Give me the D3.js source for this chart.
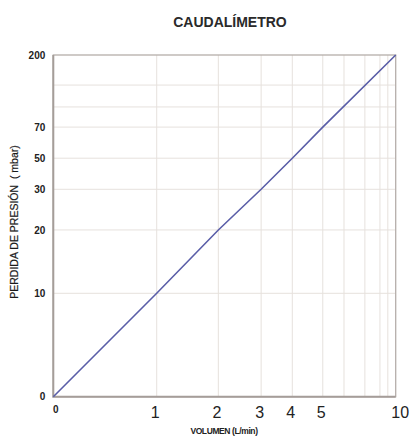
<!DOCTYPE html>
<html>
<head>
<meta charset="utf-8">
<script src="https://cdn.jsdelivr.net/npm/d3@7"></script>
<style>
  body { margin: 0; background: #fff; }
  svg { display: block; font-family: Arial, "Liberation Sans", sans-serif; }
</style>
</head>
<body>
<div id="chart"></div>
<script>
// flow (L/min) vs pressure drop (mbar)
const volumen = [0, 1, 2, 3, 4, 5, 10];
const perdida = [0, 10, 20, 30, 50, 70, 200];

// the printed chart uses a hand-made non-uniform grid
const xGridValues = [0, 1, 2, 3, 4, 5, 6, 7, 8, 9, 10];
const xGridFrac = [0, 0.302, 0.482, 0.607, 0.698, 0.787, 0.849, 0.910, 0.954, 0.977, 1];
const xTickLabels = [0, 1, 2, 3, 4, 5, 10];

const yGridValues = [0, 10, 20, 30, 50, 70, 100, 150, 200];
const yGridFrac = [0, 0.3026, 0.488, 0.607, 0.698, 0.789, 0.848, 0.912, 1];
const yTickLabels = [0, 10, 20, 30, 50, 70, 200];

const width = 410, height = 437;
const margin = { top: 55, right: 14.3, bottom: 40.3, left: 53.3 };
const innerW = width - margin.left - margin.right;
const innerH = height - margin.top - margin.bottom;

const x = d3.scaleLinear()
  .domain(xGridValues)
  .range(xGridFrac.map(f => f * innerW));
const y = d3.scaleLinear()
  .domain(yGridValues)
  .range(yGridFrac.map(f => innerH - f * innerH));

const svg = d3.select('#chart').append('svg')
  .attr('width', width)
  .attr('height', height);

svg.append('text')
  .attr('x', 230)
  .attr('y', 27)
  .attr('text-anchor', 'middle')
  .attr('font-size', 14)
  .attr('font-weight', 'bold')
  .attr('fill', '#2a2a2a')
  .text('CAUDALÍMETRO');

const g = svg.append('g').attr('transform', `translate(${margin.left},${margin.top})`);

// grid
g.append('g').selectAll('line')
  .data(xGridValues.slice(1, -1))
  .join('line')
  .attr('x1', d => x(d)).attr('x2', d => x(d))
  .attr('y1', 0).attr('y2', innerH)
  .attr('stroke', '#e6e1dd').attr('stroke-width', 1);

g.append('g').selectAll('line')
  .data(yGridValues.slice(1, -1))
  .join('line')
  .attr('x1', 0).attr('x2', innerW)
  .attr('y1', d => y(d)).attr('y2', d => y(d))
  .attr('stroke', '#e6e1dd').attr('stroke-width', 1);

// frame
g.append('rect')
  .attr('x', 0).attr('y', 0)
  .attr('width', innerW).attr('height', innerH)
  .attr('fill', 'none')
  .attr('stroke', '#b5aeaa').attr('stroke-width', 1.3);

g.append('path')
  .attr('d', `M0,0V${innerH}H${innerW}`)
  .attr('fill', 'none')
  .attr('stroke', '#a59d99').attr('stroke-width', 2);

// axes labels
const yAxis = d3.axisLeft(y).tickValues(yTickLabels).tickSize(0).tickPadding(8);
const ya = g.append('g').call(yAxis);
ya.select('.domain').remove();
ya.selectAll('text')
  .attr('font-size', 10).attr('font-weight', 'bold').attr('fill', '#222')
  .attr('font-family', 'Arial, "Liberation Sans", sans-serif');

const xAxis = d3.axisBottom(x).tickValues(xTickLabels).tickSize(0).tickPadding(0);
const xa = g.append('g').attr('transform', `translate(0,${innerH})`).call(xAxis);
xa.select('.domain').remove();
xa.selectAll('text')
  .attr('font-family', 'Arial, "Liberation Sans", sans-serif')
  .attr('fill', '#222')
  .attr('dy', d => d === 0 ? 16 : 21)
  .attr('dx', d => d === 0 ? 2 : (d === 10 ? 4 : -2))
  .attr('font-size', d => d === 0 ? 10 : 16)
  .attr('font-weight', d => d === 0 ? 'bold' : 'normal');

// data line
const line = d3.line().x((d, i) => x(volumen[i])).y(d => y(d));
g.append('path')
  .datum(perdida)
  .attr('d', line)
  .attr('fill', 'none')
  .attr('stroke', '#5a5ea8')
  .attr('stroke-width', 1.6);

// axis titles
svg.append('text')
  .attr('x', 224)
  .attr('y', 434)
  .attr('text-anchor', 'middle')
  .attr('font-size', 8.5)
  .attr('font-weight', 'bold')
  .attr('letter-spacing', -0.4)
  .attr('fill', '#222')
  .text('VOLUMEN (L/min)');

svg.append('text')
  .attr('transform', 'translate(18,222) rotate(-90)')
  .attr('text-anchor', 'middle')
  .attr('font-size', 10.5)
  .attr('fill', '#1a1a1a')
  .attr('stroke', '#1a1a1a')
  .attr('stroke-width', 0.2)
  .style('white-space', 'pre')
  .text('PERDIDA DE PRESIÓN  ( mbar)');
</script>
</body>
</html>
